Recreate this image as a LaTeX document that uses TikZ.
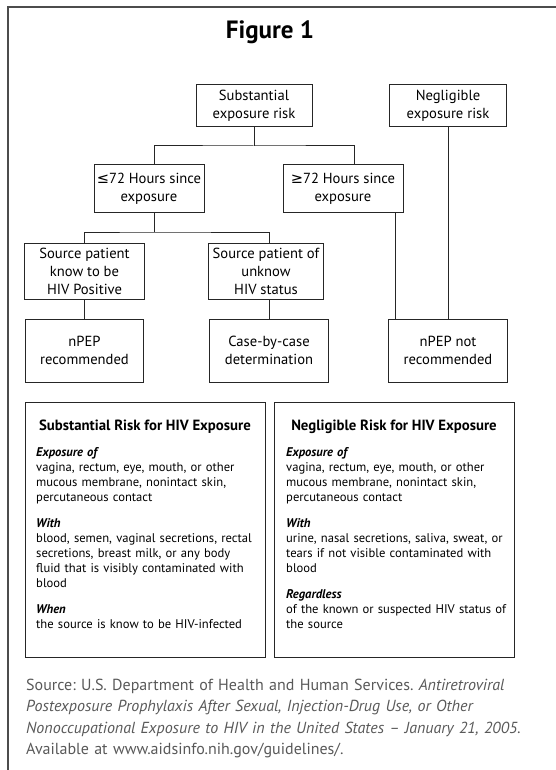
\documentclass[tikz,border=0pt]{standalone}
\usepackage{fontspec}
\setmainfont{PT Sans}
\newfontfamily\symfont{DejaVu Sans}
\frenchspacing
\begin{document}
\begin{tikzpicture}[x=1pt, y=-1pt,
	mybox/.style={draw=black!85, line width=1pt, align=center, inner sep=2pt, font=\fontsize{14.6}{18}\selectfont},
	mypanel/.style={draw=black!85, line width=1pt, minimum width=240pt, minimum height=255pt},
	myhead/.style={font=\fontsize{14.8}{16}\selectfont\bfseries},
	mytext/.style={anchor=north west, align=left, text width=235pt, inner sep=0pt, font=\fontsize{12.6}{15}\selectfont},
	myline/.style={draw=black!85, line width=1pt}]
				\useasboundingbox (0,0) rectangle (555,770);
				\draw[line width=1.3pt, black!70] (8,780) -- (8,7) -- (565,7);
				\node (title) at (270,32) {\fontsize{25}{28}\selectfont\bfseries Figure 1};
				\node[mybox, minimum width=116pt, minimum height=42pt] (subst) at (254,106) {Substantial\\exposure risk};
				\node[mybox, minimum width=117pt, minimum height=42pt] (negl) at (448,106) {Negligible\\exposure risk};
				\node[mybox, minimum width=110pt, minimum height=47pt] (le72) at (149,188.5) {{\symfont ≤}72 Hours since\\exposure};
				\node[mybox, minimum width=120pt, minimum height=47pt] (ge72) at (343,188.5) {{\symfont ≥}72 Hours since\\exposure};
				\node[mybox, minimum width=120pt, minimum height=56pt] (srcpos) at (84.5,271) {Source patient\\know to be\\HIV Positive};
				\node[mybox, minimum width=115pt, minimum height=56pt] (srcunk) at (266,271) {Source patient of\\unknow\\HIV status};
				\node[mybox, minimum width=118pt, minimum height=63pt] (recom) at (84.5,350.5) {nPEP\\recommended};
				\node[mybox, minimum width=119pt, minimum height=63pt] (casebc) at (269,350.5) {Case-by-case\\determination};
				\node[mybox, minimum width=119pt, minimum height=63pt] (notrec) at (448,350.5) {nPEP not\\recommended};
				\coordinate (split1) at (254,146);
				\coordinate (split2) at (154,232);
				\draw[myline] (subst) -- (split1);
				\draw[myline] ([xshift=5pt]le72.north) |- (split1) -| ([xshift=11pt]ge72.north);
				\draw[myline] ([xshift=5pt]le72.south) -- (split2);
				\draw[myline] (srcpos.north) |- (split2) -| ([xshift=3pt]srcunk.north);
				\draw[myline] (srcpos) -- (recom);
				\draw[myline] ([xshift=3pt]srcunk.south) -- (casebc.north);
				\draw[myline] ([xshift=52pt]ge72.south) -- ([xshift=52pt]ge72.south |- notrec.north);
				\draw[myline] (negl) -- (notrec);
				\node[mypanel] (substpanel) at (145,529.5) {};
				\node[mypanel] (neglpanel) at (394,529.5) {};
				\node[myhead] (substhead) at (145,427) {Substantial Risk for HIV Exposure};
				\node[myhead] (neglhead) at (394,427) {Negligible Risk for HIV Exposure};
				\node[mytext] (substbody) at (36,447) {
					\textbf{\textit{Exposure of}}\\
					vagina, rectum, eye, mouth, or other\\
					mucous membrane, nonintact skin,\\
					percutaneous contact\\[11pt]
					\textbf{\textit{With}}\\
					blood, semen, vaginal secretions, rectal\\
					secretions, breast milk, or any body\\
					fluid that is visibly contaminated with\\
					blood\\[11pt]
					\textbf{\textit{When}}\\
					the source is know to be HIV-infected
				};
				\node[mytext] (neglbody) at (286,447) {
					\textbf{\textit{Exposure of}}\\
					vagina, rectum, eye, mouth, or other\\
					mucous membrane, nonintact skin,\\
					percutaneous contact\\[11pt]
					\textbf{\textit{With}}\\
					urine, nasal secretions, saliva, sweat, or\\
					tears if not visible contaminated with\\
					blood\\[11pt]
					\textbf{\textit{Regardless}}\\
					of the known or suspected HIV status of\\
					the source
				};
				\node[anchor=north west, align=left, text width=525pt, inner sep=0pt, text=black!65, font=\fontsize{16}{21.5}\selectfont] (source) at (26,678.5) {
					Source: U.S. Department of Health and Human Services. \textit{Antiretroviral}\\
					\textit{Postexposure Prophylaxis After Sexual, Injection-Drug Use, or Other}\\
					\textit{Nonoccupational Exposure to HIV in the United States -- January 21, 2005.}\\
					Available at www.aidsinfo.nih.gov/guidelines/.
				};
				\end{tikzpicture}
\end{document}
